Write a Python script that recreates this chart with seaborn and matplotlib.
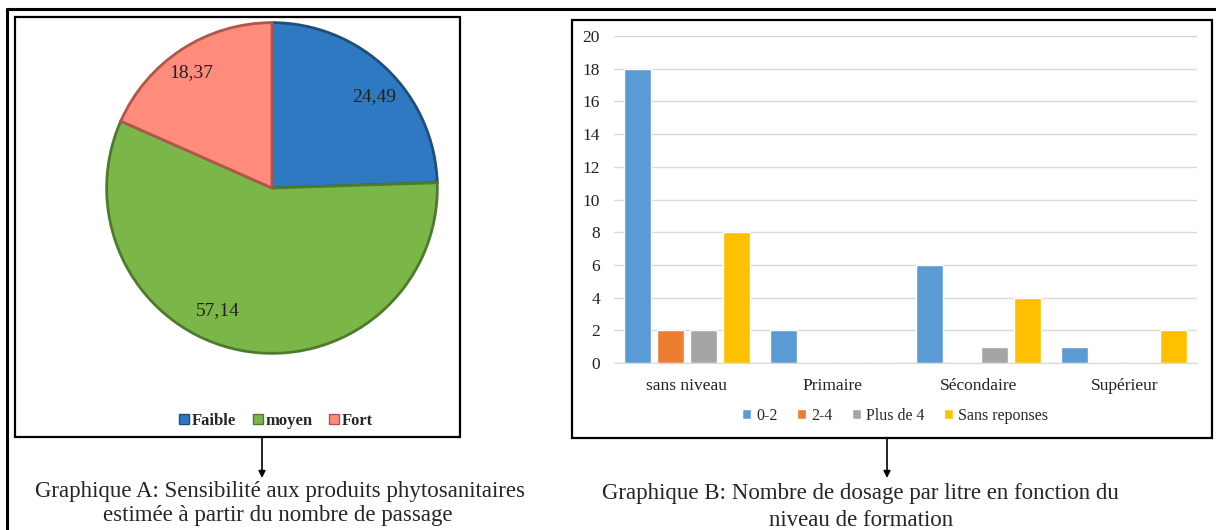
import numpy as np
import pandas as pd
import matplotlib.pyplot as plt
import seaborn as sns
from matplotlib.patches import Rectangle, Patch, FancyArrowPatch
from matplotlib.lines import Line2D

# Pie data (Graphique A)
pie_labels = ["Faible", "moyen", "Fort"]
pie_values = [24.49, 57.14, 18.37]
pie_colors = ["#2F78C2", "#7AB648", "#FF8B7B"]
pie_edges = ["#1F4E79", "#4F7A2C", "#B0574C"]

# Bar data (Graphique B)
niveaux = ["sans niveau", "Primaire", "Sécondaire", "Supérieur"]
doses = ["0-2", "2-4", "Plus de 4", "Sans reponses"]
val_0_2 = [18, 2, 6, 1]
val_2_4 = [2, 0, 0, 0]
val_plus4 = [2, 0, 1, 0]
val_sans = [8, 0, 4, 2]
bar_colors = ["#5B9BD5", "#ED7D31", "#A5A5A5", "#FFC000"]

sns.set_style("white")
plt.rcParams["font.family"] = ["Liberation Serif", "DejaVu Serif"]

W, H = 1216, 530
fig = plt.figure(figsize=(W / 100, H / 100), dpi=100)


def fx(x):
    return x / W


def fy(y):
    return 1 - y / H


def box(x0, y0, x1, y1, lw):
    fig.add_artist(Rectangle((fx(x0), fy(y1)), fx(x1) - fx(x0), fy(y0) - fy(y1),
                             transform=fig.transFigure, fill=False,
                             edgecolor="black", linewidth=lw))


def arrow(x, y0, y1):
    fig.add_artist(FancyArrowPatch((fx(x), fy(y0)), (fx(x), fy(y1)),
                                   transform=fig.transFigure, arrowstyle="-|>",
                                   color="black", lw=1.2, mutation_scale=10,
                                   shrinkA=0, shrinkB=0))


# outer frame (top and left lines)
fig.add_artist(Line2D([fx(7), 1], [fy(9), fy(9)], transform=fig.transFigure, color="black", lw=2.2))
fig.add_artist(Line2D([fx(7), fx(7)], [fy(9), 0], transform=fig.transFigure, color="black", lw=2.2))

# ---- Graphique A : pie ----
cx, cy, r = 272, 188, 167
ax_pie = fig.add_axes([fx(cx - r), fy(cy + r), fx(2 * r), (2 * r) / H])
wedges, _, autotexts = ax_pie.pie(
    pie_values, colors=pie_colors, startangle=90, counterclock=False,
    autopct=lambda p: f"{p:.2f}".replace(".", ","), pctdistance=0.82,
    wedgeprops=dict(linewidth=2), textprops=dict(fontsize=14, color="#222222"),
)
for w, ec in zip(wedges, pie_edges):
    w.set_edgecolor(ec)
# label placement inside each slice (angle in degrees, radius fraction)
label_pos = [(42, 0.83), (246, 0.81), (125, 0.85)]
for t, (a, d) in zip(autotexts, label_pos):
    t.set_position((d * np.cos(np.radians(a)), d * np.sin(np.radians(a))))
ax_pie.set_xlim(-1.01, 1.01)
ax_pie.set_ylim(-1.01, 1.01)

pie_handles = [Patch(facecolor=c, edgecolor=e, label=l) for c, e, l in zip(pie_colors, pie_edges, pie_labels)]
fig.legend(handles=pie_handles, loc="center", bbox_to_anchor=(fx(276), fy(421)), ncol=3,
           frameon=False, handlelength=0.6, handleheight=0.6,
           handletextpad=0.15, columnspacing=1.0, prop=dict(weight="bold", size=12))

box(15, 17, 460, 437, 1.6)
arrow(262, 437, 478)
fig.text(fx(280), fy(492), "Graphique A: Sensibilité aux produits phytosanitaires",
         ha="center", va="center", fontsize=16.5)
fig.text(fx(278), fy(516), "estimée à partir du nombre de passage",
         ha="center", va="center", fontsize=16.5)

# ---- Graphique B : bar chart ----
df = pd.DataFrame({
    "Niveau": niveaux * 4,
    "Dosage": [d for d in doses for _ in niveaux],
    "Nombre": val_0_2 + val_2_4 + val_plus4 + val_sans,
})

ax_bar = fig.add_axes([fx(614), fy(363), fx(1197 - 614), (363 - 36) / H])
sns.barplot(data=df, x="Niveau", y="Nombre", hue="Dosage", order=niveaux, hue_order=doses,
            palette=bar_colors, width=0.9, gap=0.18, saturation=1, ax=ax_bar, legend=False)
ax_bar.set_ylim(0, 20)
ax_bar.set_xlim(-0.5, 3.5)
ax_bar.set_yticks(range(0, 21, 2))
ax_bar.yaxis.grid(True, color="#D9D9D9", linewidth=1)
ax_bar.set_axisbelow(True)
for s in ["top", "right", "left"]:
    ax_bar.spines[s].set_visible(False)
ax_bar.spines["bottom"].set_color("#D9D9D9")
ax_bar.tick_params(axis="both", length=0, labelsize=12.5, colors="#222222")
ax_bar.tick_params(axis="y", pad=10)
ax_bar.tick_params(axis="x", pad=11)
ax_bar.set_xlabel("")
ax_bar.set_ylabel("")

bar_handles = [Patch(facecolor=c, label=d) for c, d in zip(bar_colors, doses)]
fig.legend(handles=bar_handles, loc="center", bbox_to_anchor=(fx(895), fy(416)), ncol=4,
           frameon=False, fontsize=11.5, handlelength=0.6, handleheight=0.6,
           handletextpad=0.3, columnspacing=1.2)

box(572, 20, 1212, 438, 1.6)
arrow(887, 438, 478)
fig.text(fx(860), fy(493), "Graphique B: Nombre de dosage par litre en fonction du",
         ha="center", va="center", fontsize=16.5)
fig.text(fx(861), fy(520), "niveau de formation",
         ha="center", va="center", fontsize=16.5)

fig.savefig("out.png", dpi=100)
